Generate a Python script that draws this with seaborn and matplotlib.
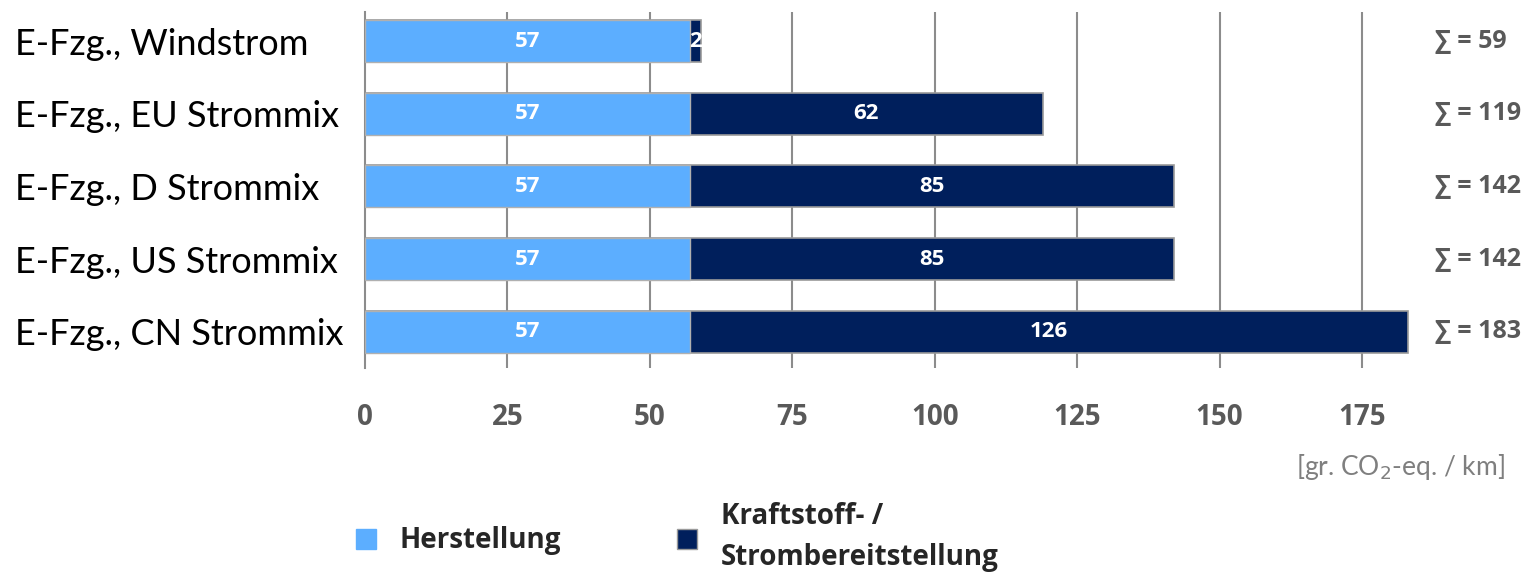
import matplotlib
matplotlib.use('Agg')
import matplotlib.pyplot as plt
import seaborn as sns
import pandas as pd

categories = ['E-Fzg., Windstrom', 'E-Fzg., EU Strommix', 'E-Fzg., D Strommix',
              'E-Fzg., US Strommix', 'E-Fzg., CN Strommix']
herstellung = [57, 57, 57, 57, 57]
strom = [2, 62, 85, 85, 126]
totals = [59, 119, 142, 142, 183]
x_ticks = [0, 25, 50, 75, 100, 125, 150, 175]

light = '#5CAEFF'
dark = '#001F5C'
grey_txt = '#595959'
bold_font = ['Open Sans', 'DejaVu Sans']

sns.set_theme(style='white')
plt.rcParams['font.family'] = ['Lato', 'DejaVu Sans']

df = pd.DataFrame({'cat': categories, 'herst': herstellung, 'strom': strom, 'total': totals})

fig = plt.figure(figsize=(15.31, 5.79), dpi=100)
ax = fig.add_axes([0.2384, 0.3644, 0.6884, 0.6149])

# stacked: full total in dark, Herstellung drawn on top
sns.barplot(data=df, y='cat', x='total', orient='h', color=dark, width=0.58,
            edgecolor='#9a9a9a', linewidth=1.2, saturation=1, ax=ax, zorder=3)
sns.barplot(data=df, y='cat', x='herst', orient='h', color=light, width=0.58,
            edgecolor='#b0b0b0', linewidth=1.0, saturation=1, ax=ax, zorder=4)

ax.set_xlim(0, 185)
ax.set_ylim(4.5, -0.4)
ax.set_xticks(x_ticks)
ax.set_xlabel('')
ax.set_ylabel('')
for x in x_ticks[1:]:
    ax.axvline(x, color='#8c8c8c', lw=1.5, zorder=1)
for s in ['top', 'right', 'bottom']:
    ax.spines[s].set_visible(False)
ax.spines['left'].set_color('#8c8c8c')
ax.spines['left'].set_linewidth(1.5)

ax.tick_params(axis='x', length=0, pad=25, labelsize=20, labelcolor=grey_txt)
for lab in ax.get_xticklabels():
    lab.set_fontweight('bold')
    lab.set_family(bold_font)
ax.tick_params(axis='y', length=0, pad=252, labelsize=26, labelcolor='black')
for lab in ax.get_yticklabels():
    lab.set_horizontalalignment('left')

for i in range(len(categories)):
    ax.text(herstellung[i] / 2, i, str(herstellung[i]), color='white', fontsize=16,
            fontweight='bold', family=bold_font, ha='center', va='center', zorder=6)
    ax.text(herstellung[i] + strom[i] / 2, i, str(strom[i]), color='white', fontsize=16,
            fontweight='bold', family=bold_font, ha='center', va='center', zorder=6)
    ax.text(1.0155, i, '∑ = ' + str(totals[i]), transform=ax.get_yaxis_transform(),
            color=grey_txt, fontsize=18, fontweight='bold', family=bold_font,
            ha='left', va='center')

fig.text(0.983, 0.193, '[gr. CO$_2$-eq. / km]', color='#7f7f7f', fontsize=19,
         ha='right', va='center')

handles = [plt.Rectangle((0, 0), 1, 1, fc=light, ec=light),
           plt.Rectangle((0, 0), 1, 1, fc=dark, ec='#9a9a9a')]
leg = fig.legend(handles, ['Herstellung', 'Kraftstoff- /\nStrombereitstellung'],
                 loc='center left', bbox_to_anchor=(0.216, 0.072), ncol=2, frameon=False,
                 handlelength=0.72, handleheight=0.72, columnspacing=4.2, handletextpad=0.85,
                 prop={'size': 20, 'weight': 'bold', 'family': bold_font})
for t in leg.get_texts():
    t.set_linespacing(1.55)

fig.savefig('out.png', dpi=100)
